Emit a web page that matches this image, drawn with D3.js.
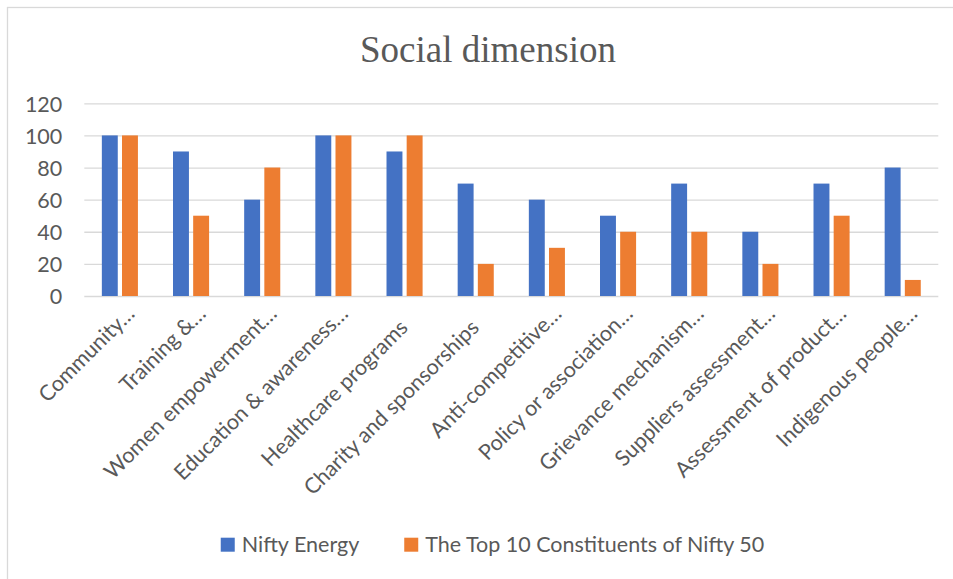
<!DOCTYPE html>
<html>
<head>
<meta charset="utf-8">
<script src="https://cdn.jsdelivr.net/npm/d3@7"></script>
<style>
  html, body { margin: 0; padding: 0; background: #ffffff; }
  svg { display: block; }
</style>
</head>
<body>
<div id="chart"></div>
<script>
const titleText = "Social dimension";
const categories = [
  "Community…", "Training &…", "Women empowerment…", "Education & awareness…",
  "Healthcare programs", "Charity and sponsorships", "Anti-competitive…",
  "Policy or association…", "Grievance mechanism…", "Suppliers assessment…",
  "Assessment of product…", "Indigenous people…"
];
const seriesNames = ["Nifty Energy", "The Top 10 Constituents of Nifty 50"];
const niftyEnergy = [100, 90, 60, 100, 90, 70, 60, 50, 70, 40, 70, 80];
const top10Nifty50 = [100, 50, 80, 100, 100, 20, 30, 40, 40, 20, 50, 10];
const yTicks = [0, 20, 40, 60, 80, 100, 120];
const colors = ["#4472C4", "#ED7D31"];

const W = 953, H = 579;
const textColor = "#595959";
const gridColor = "#d9d9d9";
const sansFont = "Lato, 'Liberation Sans', sans-serif";
const labelSize = 21.5;

const svg = d3.select("#chart").append("svg").attr("width", W).attr("height", H);
svg.append("rect").attr("width", W).attr("height", H).attr("fill", "#fff");
// chart frame (extends past the picture's right and bottom edges)
svg.append("rect").attr("x", 7.5).attr("y", 7.5).attr("width", W + 20).attr("height", H + 20)
  .attr("fill", "none").attr("stroke", gridColor).attr("stroke-width", 1.3);

const plot = { left: 84.3, right: 938.3, top: 103.3, bottom: 296 };

const y = d3.scaleLinear().domain([0, 120]).range([plot.bottom, plot.top]);
const x0 = d3.scaleBand().domain(categories).range([plot.left, plot.right]).paddingInner(0).paddingOuter(0);
const x1 = d3.scaleBand().domain(seriesNames).range([0, x0.bandwidth()]).paddingInner(0.21).paddingOuter(0.87);

// title
svg.append("text").attr("x", 488).attr("y", 62).attr("text-anchor", "middle")
  .attr("font-family", "'Liberation Serif', 'Times New Roman', serif").attr("font-size", 37)
  .attr("fill", textColor).text(titleText);

// gridlines + y labels
const yAxis = d3.axisLeft(y).tickValues(yTicks).tickSize(-(plot.right - plot.left)).tickPadding(22);
const gy = svg.append("g").attr("transform", `translate(${plot.left},0)`).call(yAxis);
gy.select(".domain").remove();
gy.selectAll(".tick line").attr("stroke", gridColor).attr("stroke-width", 1.3);
gy.selectAll(".tick text").attr("fill", textColor).attr("font-family", sansFont)
  .attr("font-size", labelSize).attr("dy", "0.36em");

// bars
const rows = categories.map((c, i) => ({ cat: c, vals: [niftyEnergy[i], top10Nifty50[i]] }));
const groups = svg.append("g").selectAll("g").data(rows).join("g")
  .attr("transform", d => `translate(${x0(d.cat)},0)`);
groups.selectAll("rect").data(d => d.vals.map((v, j) => ({ s: seriesNames[j], v, j })))
  .join("rect")
  .attr("x", d => x1(d.s))
  .attr("width", x1.bandwidth())
  .attr("y", d => y(d.v))
  .attr("height", d => y(0) - y(d.v))
  .attr("fill", d => colors[d.j]);

// x axis labels (rotated -45°)
const xl = svg.append("g");
categories.forEach(c => {
  const cx = x0(c) + x0.bandwidth() / 2;
  const trunc = c.endsWith("…");
  const dx = trunc ? 16 : 4.5;
  const dy = trunc ? 19 : 33;
  xl.append("text")
    .attr("transform", `translate(${cx + dx},${plot.bottom + dy}) rotate(-45)`)
    .attr("text-anchor", "end")
    .attr("font-family", sansFont).attr("font-size", labelSize)
    .attr("fill", textColor).text(c);
});

// legend, centred
const lg = svg.append("g");
const sq = 14, gapSqText = 7, gapItems = 45, legendCenter = 492.5, legendBaseline = 552;
const items = seriesNames.map((s, i) => {
  const t = lg.append("text").attr("font-family", sansFont).attr("font-size", labelSize)
    .attr("fill", textColor).attr("y", legendBaseline).text(s);
  return { t, w: t.node().getComputedTextLength(), i };
});
const total = items.reduce((a, it) => a + sq + gapSqText + it.w, 0) + gapItems * (items.length - 1);
let cur = legendCenter - total / 2;
items.forEach(it => {
  lg.append("rect").attr("x", cur).attr("y", legendBaseline - 14.3).attr("width", sq).attr("height", sq)
    .attr("fill", colors[it.i]);
  it.t.attr("x", cur + sq + gapSqText);
  cur += sq + gapSqText + it.w + gapItems;
});
</script>
</body>
</html>
